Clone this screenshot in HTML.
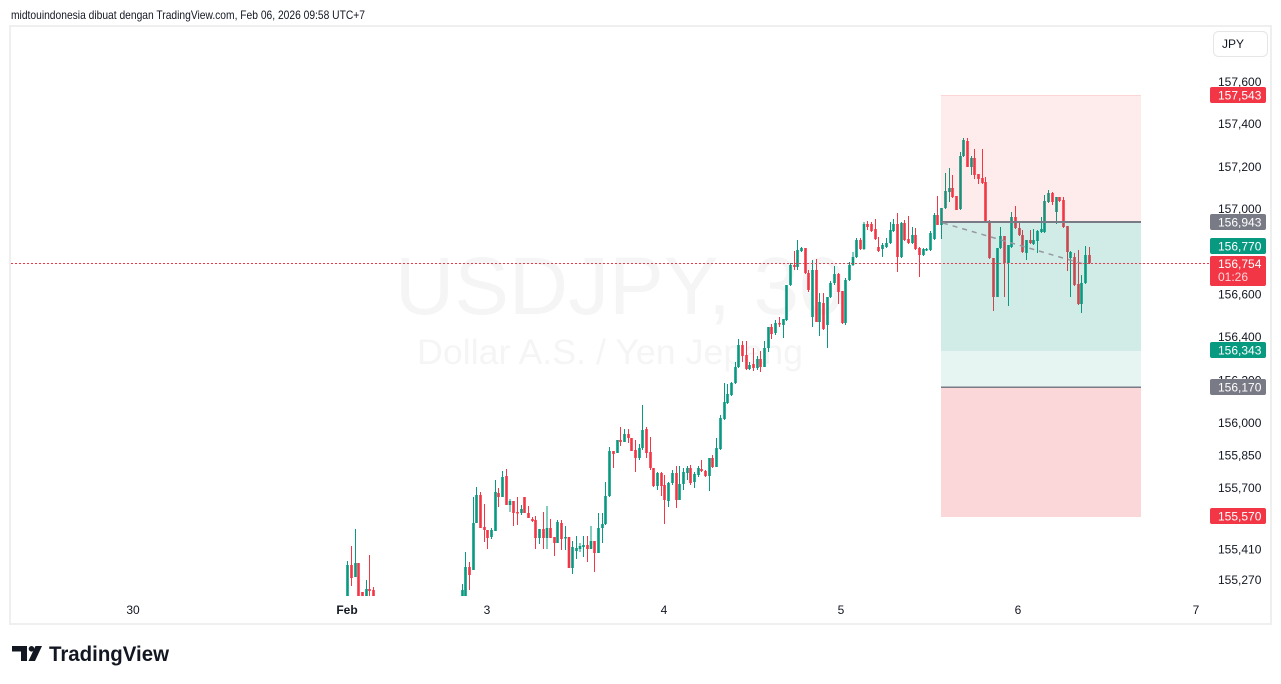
<!DOCTYPE html>
<html><head><meta charset="utf-8"><style>
html,body{margin:0;padding:0;background:#fff;}
svg{display:block;}
text{font-family:"Liberation Sans",Arial,sans-serif;}
</style></head><body>
<svg width="1281" height="684" viewBox="0 0 1281 684" xmlns="http://www.w3.org/2000/svg">
<rect x="0" y="0" width="1281" height="684" fill="#fff"/>
<text x="11" y="19" font-size="12" fill="#131722" textLength="354" lengthAdjust="spacingAndGlyphs">midtouindonesia dibuat dengan TradingView.com, Feb 06, 2026 09:58 UTC+7</text>
<rect x="10" y="26" width="1261" height="598" fill="none" stroke="#efefef" stroke-width="2"/>
<text x="395" y="314" font-size="82" fill="#131722" fill-opacity="0.045">USDJPY, 30</text>
<text x="417" y="364" font-size="35" fill="#131722" fill-opacity="0.045" textLength="386" lengthAdjust="spacingAndGlyphs">Dollar A.S. / Yen Jepang</text>
<defs><clipPath id="pane"><rect x="11" y="27" width="1199" height="570"/></clipPath></defs>
<g clip-path="url(#pane)" fill="none">
<path stroke="#089981" stroke-width="1" d="M347.5 561V596M355.5 529V577M366.5 580V596M462.5 584V596M465.5 552V596M473.5 497V570M476.5 487V523M491.5 528V539M495.5 480V531M502.5 471V497M510 499V512M521.5 505V515M539.5 529V544M547 506V549M557.5 520V543M565.5 526V550M572.5 541V574M576.5 536V559M580 543V552M583.5 536V557M591 526V549M598.5 513V553M602.5 513V543M605.5 482V525M609.5 447V497M617.5 440V453M624.5 429V442M639.5 444V460M642.5 405V450M657.5 472V490M668.5 482V507M672.5 470V485M679.5 466V500M683.5 468V490M687.5 466V480M694.5 472V488M698.5 466V477M709.5 458V491M716.5 438V467M720.5 415V450M724.5 383V420M727.5 384V404M731.5 382V396M735.5 362V384M738.5 339V368M749.5 362V370M757.5 356V370M764.5 341V367M768.5 327V352M775.5 320V335M783.5 319V338M786.5 285V321M790.5 263V286M797.5 240V270M801.5 247V252M812.5 260V327M819.5 293V336M827.5 297V348M830.5 281V298M834.5 266V285M845.5 278V325M849.5 262V281M853 252V266M856.5 238V258M864 222V250M882.5 243V257M886.5 238V248M890.5 222V244M893.5 219V232M901.5 222V258M912.5 227V244M923.5 248V256M926.5 248V251M930.5 231V251M934.5 213V240M941.5 208V239M945.5 173V209M949.5 168V202M960.5 152V210M963.5 138V157M971.5 156V175M997.5 248V297M1000.5 227V249M1008.5 245V306M1011.5 212V248M1026.5 240V260M1033.5 229V245M1037.5 230V253M1041.5 217V233M1044.5 195V233M1048.5 190V203M1056.5 197V224M1070.5 251V297M1081.5 275V313M1085.5 246V284"/>
<path stroke="#089981" stroke-width="2.6" d="M347.5 565V596M355.5 563V577M366.5 589V596M462.5 590V596M465.5 567V596M473.5 523V570M476.5 495V523M491.5 530V537M495.5 492V531M502.5 477V497M510 501V505M521.5 509V513M539.5 529V538M547 528V538M557.5 522V543M565.5 537V538.5M572.5 547V568M576.5 548V551M580 546V549M583.5 545V547M591 541V549M598.5 528V553M602.5 524V528M605.5 496V524M609.5 451V496M617.5 440V453M624.5 434V442M639.5 448V458M642.5 430V448M657.5 473V486M668.5 483V501M672.5 473V483M679.5 484V500M683.5 472V484M687.5 468V473M694.5 474V482M698.5 468V475M709.5 458V476M716.5 448V467M720.5 418V449M724.5 402V419M727.5 394V403M731.5 383V395M735.5 367V383M738.5 345V367M749.5 365V369M757.5 359V368M764.5 348V367M768.5 327V348M775.5 323V333M783.5 319V325M786.5 285V320M790.5 265V285M797.5 250V267M801.5 248V251M812.5 270V317M819.5 302V322M827.5 297V325M830.5 283V297M834.5 274V283M845.5 280V323M849.5 265V280M853 257V265M856.5 240V257M864 224V249M882.5 245V249M886.5 243V247M890.5 230V243M893.5 224V231M901.5 223V257M912.5 235V243M923.5 249V255M926.5 249V250.5M930.5 233V250M934.5 215V239M941.5 208V225M945.5 191V208M949.5 188V192M960.5 156V209M963.5 140V156M971.5 158V167M997.5 248V297M1000.5 236V248M1008.5 245V263M1011.5 217V247M1026.5 240V253M1033.5 240V244M1037.5 231V241M1041.5 229V232M1044.5 201V232M1048.5 193V202M1056.5 197V212M1070.5 252V258M1081.5 283V304M1085.5 255V283"/>
<path stroke="#f23645" stroke-width="1" d="M351.5 546V586M358.5 563V596M362.5 592V596M369.5 555V596M373.5 587V596M469.5 562V590M480.5 492V528M484.5 504V542M487.5 530V549M498.5 488V507M506.5 469V505M513.5 501V526M517.5 497V525M524.5 497V513M528.5 506V518M532.5 517V522M535.5 516V549M543.5 512V549M550.5 519V538M554.5 537V556M561.5 520V550M569 537V568M587.5 536V562M594.5 541V572M613.5 451V468M620.5 427V446M628.5 429V443M631.5 438V451M635.5 440V472M646.5 427V458M650.5 437V470M653.5 468V487M661.5 472V496M664.5 475V524M676.5 466V508M690.5 465V485M701.5 460V472M705.5 470V477M712.5 455V468M742.5 341V362M746.5 341V370M753.5 348V371M760.5 351V372M771.5 324V339M779.5 317V327M794.5 251V270M805.5 248V274M808.5 270V292M816.5 259V322M823.5 293V330M838.5 273V304M842.5 291V324M860.5 238V250M867.5 221V230M871.5 222V232M875.5 219V240M878.5 237V252M897.5 213V272M904.5 220V241M908.5 216V244M915.5 228V250M919.5 247V277M937.5 196V225M952.5 175V198M956.5 196V210M967.5 138V167M974.5 149V179M978.5 174V184M982.5 149V184M985.5 177V221M989.5 220V259M993.5 258V311M1004.5 236V297M1015.5 206V229M1019.5 223V236M1022.5 230V253M1030.5 230V244M1052.5 192V205M1059.5 197V202M1063.5 197V228M1067.5 226V271M1074.5 253V286M1078.5 250V305M1089.5 247V264"/>
<path stroke="#f23645" stroke-width="2.6" d="M351.5 565V578M358.5 563V596M362.5 592V596M369.5 589V591M373.5 590V596M469.5 567V575M480.5 495V528M484.5 527V530M487.5 530V538M498.5 493V497M506.5 476V505M513.5 501V513M517.5 512V513.5M524.5 497V513M528.5 513V518M532.5 519V521M535.5 520V538M543.5 529V538M550.5 528V538M554.5 537V543M561.5 523V539M569 537V568M587.5 545V549M594.5 541V553M613.5 451V454M620.5 440V442M628.5 434V438M631.5 438V451M635.5 450V458M646.5 429V453M650.5 452V468M653.5 468V486M661.5 473V486M664.5 485V500M676.5 473V500M690.5 468V483M701.5 469V471M705.5 471V476M712.5 458V467M742.5 345V356M746.5 355V369M753.5 364V368M760.5 359V367M771.5 327V334M779.5 323V324.5M794.5 265V267M805.5 248V273M808.5 273V290M816.5 270V322M823.5 303V329M838.5 274V292M842.5 291V323M860.5 240V249M867.5 224V227M871.5 224V231M875.5 229V239M878.5 247V251M897.5 224V257M904.5 223V240M908.5 239V243M915.5 235V249M919.5 248V255M937.5 215V225M952.5 188V197M956.5 196V210M967.5 141V167M974.5 158V175M978.5 174V179M982.5 178V183M985.5 182V221M989.5 221V258M993.5 258V297M1004.5 236V263M1015.5 217V228M1019.5 228V235M1022.5 235V252M1030.5 240V243M1052.5 193V202M1059.5 197V201M1063.5 200V227M1067.5 226V252M1074.5 257V285M1078.5 284V304M1089.5 255V263"/>
</g>
<rect x="941" y="95" width="200" height="127" fill="#f23645" fill-opacity="0.1"/>
<line x1="941" y1="95.5" x2="1141" y2="95.5" stroke="#f23645" stroke-opacity="0.12" stroke-width="1"/>
<rect x="941" y="222" width="200" height="129" fill="#089981" fill-opacity="0.19"/>
<rect x="941" y="351" width="200" height="36" fill="#089981" fill-opacity="0.1"/>
<rect x="941" y="387" width="200" height="130" fill="#f23645" fill-opacity="0.2"/>
<line x1="941" y1="222" x2="1141" y2="222" stroke="#787b86" stroke-width="2"/>
<line x1="941" y1="387.3" x2="1141" y2="387.3" stroke="#787b86" stroke-width="1.5"/>
<line x1="943" y1="223" x2="1087" y2="265" stroke="#9598a1" stroke-width="1.5" stroke-dasharray="5,5"/>
<line x1="11" y1="263.5" x2="1210" y2="263.5" stroke="#f23645" stroke-width="1" stroke-dasharray="2,2"/>
<rect x="1213.5" y="31.5" width="54" height="25" rx="5" fill="#fff" stroke="#e6e6e6" stroke-width="1"/>
<text x="1222" y="48" font-size="12" fill="#131722">JPY</text>
<g font-size="12" fill="#131722">
<text x="1218" y="86">157,600</text>
<text x="1218" y="128">157,400</text>
<text x="1218" y="171">157,200</text>
<text x="1218" y="213">157,000</text>
<text x="1218" y="298.5">156,600</text>
<text x="1218" y="341">156,400</text>
<text x="1218" y="384.5">156,200</text>
<text x="1218" y="427">156,000</text>
<text x="1218" y="459.5">155,850</text>
<text x="1218" y="492">155,700</text>
<text x="1218" y="553.5">155,410</text>
<text x="1218" y="584">155,270</text>
</g>
<g font-size="12" fill="#fff">
<rect x="1210" y="87" width="56" height="16" rx="2" fill="#f23645"/>
<text x="1218" y="99.5">157,543</text>
<rect x="1210" y="214" width="56" height="16" rx="2" fill="#787b86"/>
<text x="1218" y="226.5">156,943</text>
<rect x="1210" y="238" width="56" height="16" rx="2" fill="#089981"/>
<text x="1218" y="250.5">156,770</text>
<rect x="1210" y="256" width="56" height="30" rx="2" fill="#f23645"/>
<text x="1218" y="268">156,754</text>
<text x="1218" y="281" fill-opacity="0.8">01:26</text>
<rect x="1210" y="342" width="56" height="16" rx="2" fill="#089981"/>
<text x="1218" y="354.5">156,343</text>
<rect x="1210" y="379" width="56" height="16" rx="2" fill="#787b86"/>
<text x="1218" y="391.5">156,170</text>
<rect x="1210" y="508" width="56" height="16" rx="2" fill="#f23645"/>
<text x="1218" y="520.5">155,570</text>
</g>
<g font-size="12" fill="#131722" text-anchor="middle">
<text x="133" y="614">30</text>
<text x="347" y="614" font-weight="bold">Feb</text>
<text x="487" y="614">3</text>
<text x="664" y="614">4</text>
<text x="841" y="614">5</text>
<text x="1018" y="614">6</text>
<text x="1196" y="614">7</text>
</g>
<g fill="#131722">
<rect x="12" y="646" width="15" height="5.5"/>
<rect x="21" y="646" width="6" height="15"/>
<circle cx="31.5" cy="648.8" r="2.8"/>
<polygon points="35.5,646 42,646 35,661 28.5,661"/>
</g>
<text x="49" y="661" font-size="21" font-weight="bold" fill="#131722" textLength="120" lengthAdjust="spacingAndGlyphs">TradingView</text>
</svg>
</body></html>
